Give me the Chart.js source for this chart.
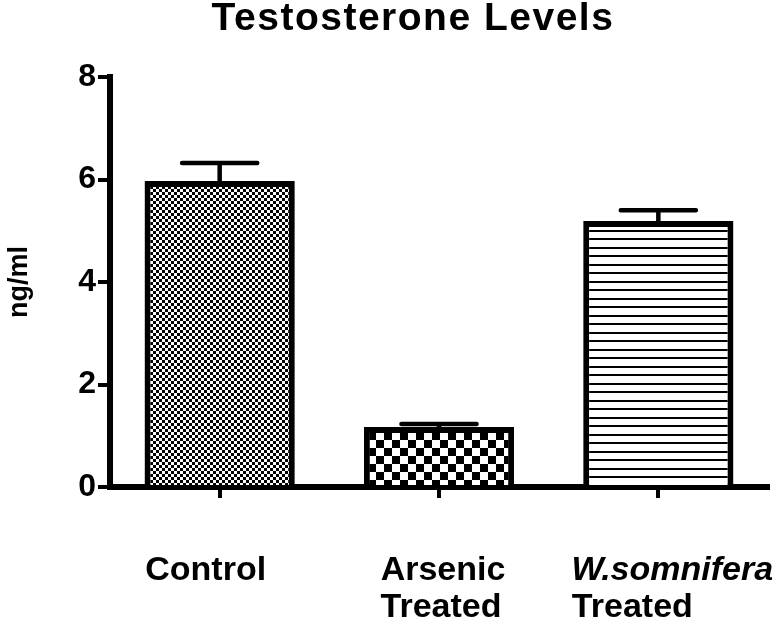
<!DOCTYPE html>
<html>
<head>
<meta charset="utf-8">
<script src="https://cdn.jsdelivr.net/npm/chart.js@4.4.1/dist/chart.umd.min.js"></script>
<style>
  html, body { margin: 0; padding: 0; background: #fff; }
</style>
</head>
<body>
<canvas id="chart" width="783" height="619"></canvas>
<script>
// data
const categories = ['Control', 'Arsenic Treated', 'W.somnifera Treated'];
const labelLines = [['Control'], ['Arsenic', 'Treated'], ['W.somnifera', 'Treated']];
const italicLines = [[false], [false, false], [true, false]];
const meanValues = [5.97, 1.17, 5.19];
const errorValues = [0.35, 0.06, 0.21];
const yTicks = [0, 2, 4, 6, 8];

const FONT = '"Liberation Sans", Arial, Helvetica, sans-serif';
const canvas = document.getElementById('chart');
const ctx = canvas.getContext('2d');

function tile(w, h, draw) {
  const c = document.createElement('canvas');
  c.width = w; c.height = h;
  const g = c.getContext('2d');
  g.fillStyle = '#fff';
  g.fillRect(0, 0, w, h);
  g.fillStyle = '#000';
  draw(g);
  return ctx.createPattern(c, 'repeat');
}

function checker(size) {
  return tile(size * 2, size * 2, (g) => {
    g.fillRect(0, 0, size, size);
    g.fillRect(size, size, size, size);
  });
}

const hlines = tile(4, 17, (g) => {
  g.fillRect(0, 0, 4, 2);
  g.fillRect(0, 9, 4, 2);
});

const patterns = [checker(3), checker(8), hlines];

// mean +/- SEM whiskers (upper side only)
const errorBars = {
  id: 'errorBars',
  afterDatasetsDraw(chart) {
    const meta = chart.getDatasetMeta(0);
    const y = chart.scales.y;
    const c = chart.ctx;
    c.save();
    c.strokeStyle = '#000';
    c.lineWidth = 4.5;
    c.lineCap = 'round';
    meta.data.forEach((bar, i) => {
      const top = y.getPixelForValue(meanValues[i] + errorValues[i]);
      const half = bar.width / 4;
      c.beginPath();
      c.moveTo(bar.x, bar.y);
      c.lineTo(bar.x, top);
      c.moveTo(bar.x - half, top);
      c.lineTo(bar.x + half, top);
      c.stroke();
    });
    c.restore();
  }
};

const texts = {
  id: 'texts',
  afterDraw(chart, args, opts) {
    const c = chart.ctx;
    const x = chart.scales.x;
    c.save();
    c.fillStyle = '#000';
    c.textBaseline = 'alphabetic';
    c.textAlign = 'center';

    c.font = 'bold 39px ' + FONT;
    c.letterSpacing = '1.5px';
    c.fillText('Testosterone Levels', 413, 30);
    c.letterSpacing = '0px';

    labelLines.forEach((lines, i) => {
      const cx = x.getPixelForValue(i);
      lines.forEach((txt, j) => {
        c.font = (italicLines[i][j] ? 'italic ' : '') + 'bold 34px ' + FONT;
        c.fillText(txt, cx + opts.offsets[i][j], 580 + j * 37);
      });
    });
    c.restore();
  }
};

new Chart(ctx, {
  type: 'bar',
  data: {
    labels: categories,
    datasets: [{
      data: meanValues,
      backgroundColor: patterns,
      borderColor: '#000',
      borderWidth: 6,
      borderSkipped: 'bottom',
      barPercentage: 0.685,
      categoryPercentage: 1,
    }],
  },
  options: {
    responsive: false,
    animation: false,
    layout: { padding: { top: 77, right: 15, left: 0, bottom: 0 } },
    plugins: {
      legend: { display: false },
      tooltip: { enabled: false },
      texts: { offsets: [[-14], [4, 2], [14, -26]] },
    },
    scales: {
      x: {
        ticks: { display: false },
        grid: { drawOnChartArea: false, offset: false, tickLength: 11, lineWidth: 4, color: '#000' },
        border: { color: '#000', width: 6 },
        afterFit: (s) => { s.height = 619 - 487; },
      },
      y: {
        min: 0,
        max: 8,
        afterBuildTicks: (s) => { s.ticks = yTicks.map((v) => ({ value: v })); },
        ticks: { color: '#000', padding: 2, font: { family: FONT, size: 32, weight: 'bold' } },
        grid: { drawOnChartArea: false, tickLength: 12, lineWidth: 4, color: '#000' },
        border: { color: '#000', width: 6 },
        title: {
          display: true,
          text: 'ng/ml',
          color: '#000',
          padding: { top: 3, bottom: 0 },
          font: { family: FONT, size: 27, weight: 'bold' },
        },
        afterFit: (s) => { s.width = 110; },
      },
    },
  },
  plugins: [errorBars, texts],
});
</script>
</body>
</html>
